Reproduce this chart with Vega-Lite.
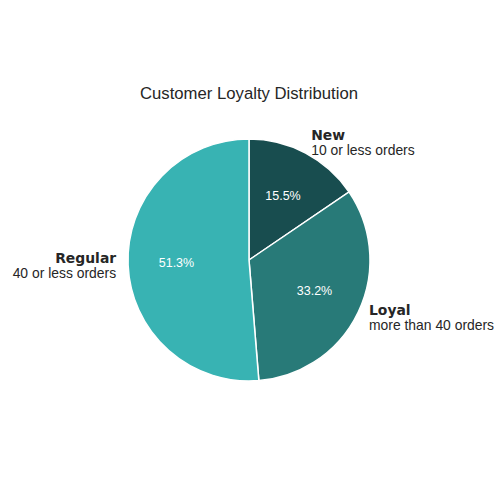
{
  "$schema": "https://vega.github.io/schema/vega-lite/v6.json",
  "autosize": "none",
  "width": 242,
  "height": 242,
  "padding": {"left": 128, "top": 139, "right": 130, "bottom": 119},
  "background": "white",
  "title": {
    "text": "Customer Loyalty Distribution",
    "font": "Liberation Sans",
    "fontSize": 16.7,
    "fontWeight": "normal",
    "color": "#262626",
    "frame": "group",
    "anchor": "middle",
    "offset": 27
  },
  "data": {
    "values": [
      {"segment": "New", "desc": "10 or less orders", "share": 0.155, "rank": 1},
      {"segment": "Loyal", "desc": "more than 40 orders", "share": 0.332, "rank": 2},
      {"segment": "Regular", "desc": "40 or less orders", "share": 0.513, "rank": 3}
    ]
  },
  "encoding": {
    "theta": {"field": "share", "type": "quantitative", "stack": true},
    "order": {"field": "rank", "type": "quantitative"},
    "color": {
      "field": "segment",
      "type": "nominal",
      "scale": {"domain": ["New", "Loyal", "Regular"], "range": ["#184d4f", "#287a78", "#38b3b3"]},
      "legend": null
    }
  },
  "layer": [
    {
      "mark": {"type": "arc", "outerRadius": 121, "stroke": "white", "strokeWidth": 1.5}
    },
    {
      "mark": {"type": "text", "radius": 72.6, "font": "Liberation Sans", "fontSize": 12.5, "align": "center", "baseline": "middle", "color": "white"},
      "encoding": {
        "text": {"field": "share", "type": "quantitative", "format": ".1%"},
        "color": {"value": "white"},
        "detail": {"field": "segment", "type": "nominal"}
      }
    },
    {
      "mark": {"type": "text", "radius": 133, "font": "DejaVu Sans", "fontWeight": "bold", "fontSize": 13.9, "align": "left", "baseline": "middle", "dy": -6, "color": "#262626"},
      "encoding": {
        "text": {"condition": {"test": "datum.segment !== 'Regular'", "field": "segment"}, "value": ""},
        "color": {"value": "#262626"},
        "detail": {"field": "segment", "type": "nominal"}
      }
    },
    {
      "mark": {"type": "text", "radius": 133, "font": "Liberation Sans", "fontSize": 13.9, "align": "left", "baseline": "middle", "dy": 8.5, "color": "#262626"},
      "encoding": {
        "text": {"condition": {"test": "datum.segment !== 'Regular'", "field": "desc"}, "value": ""},
        "color": {"value": "#262626"},
        "detail": {"field": "segment", "type": "nominal"}
      }
    },
    {
      "mark": {"type": "text", "radius": 133, "font": "DejaVu Sans", "fontWeight": "bold", "fontSize": 13.9, "align": "right", "baseline": "middle", "dy": -6, "color": "#262626"},
      "encoding": {
        "text": {"condition": {"test": "datum.segment === 'Regular'", "field": "segment"}, "value": ""},
        "color": {"value": "#262626"},
        "detail": {"field": "segment", "type": "nominal"}
      }
    },
    {
      "mark": {"type": "text", "radius": 133, "font": "Liberation Sans", "fontSize": 13.9, "align": "right", "baseline": "middle", "dy": 8.5, "color": "#262626"},
      "encoding": {
        "text": {"condition": {"test": "datum.segment === 'Regular'", "field": "desc"}, "value": ""},
        "color": {"value": "#262626"},
        "detail": {"field": "segment", "type": "nominal"}
      }
    }
  ]
}
